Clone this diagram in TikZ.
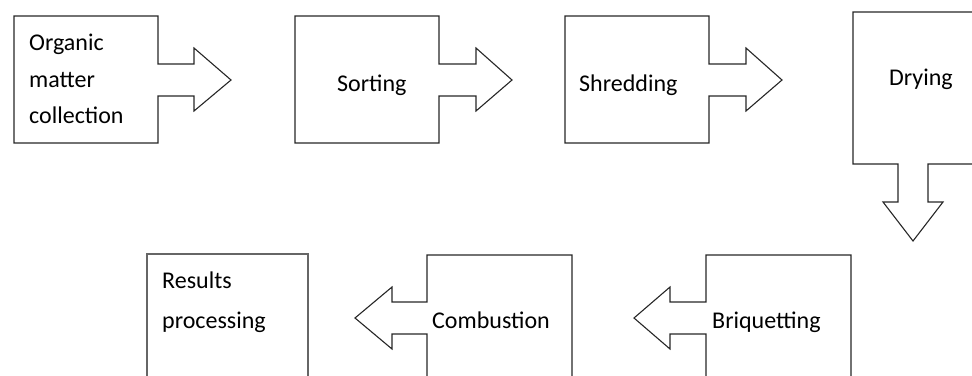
\documentclass[tikz,border=0pt]{standalone}
\usepackage{fontspec}
\setmainfont{Carlito}
\usepackage{tikz}
\usetikzlibrary{positioning}

\tikzset{
  stage/.style={draw=black!85, line width=1.1pt},
  label text/.style={inner sep=0pt, anchor=base west, font=\fontsize{24}{36}\selectfont}
}

\begin{document}
\begin{tikzpicture}[x=1pt,y=-1pt]
                \useasboundingbox (0,0) rectangle (972,375);
                % top row, arrows to the right
                \draw[stage] (14,16) -- (158,16) -- (158,64) -- (194,64) -- (194,48) -- (231,80)
                    -- (194,111) -- (194,96) -- (158,96) -- (158,143) -- (14,143) -- cycle;
                \draw[stage] (295,16) -- (439,16) -- (439,64) -- (476,64) -- (476,48) -- (512,80)
                    -- (476,111) -- (476,96) -- (439,96) -- (439,143) -- (295,143) -- cycle;
                \draw[stage] (565,16) -- (709,16) -- (709,64) -- (746,64) -- (746,48) -- (782,80)
                    -- (746,111) -- (746,96) -- (709,96) -- (709,143) -- (565,143) -- cycle;
                % drying, arrow down
                \draw[stage] (980,12) -- (853,12) -- (853,164) -- (898,164) -- (898,202) -- (883,202)
                    -- (913,241) -- (943,202) -- (928,202) -- (928,164) -- (980,164);
                % bottom row, arrows to the left
                \draw[stage] (706,380) -- (706,334) -- (670,334) -- (670,349) -- (634,318) -- (670,287)
                    -- (670,302) -- (706,302) -- (706,255) -- (851,255) -- (851,380);
                \draw[stage] (427,380) -- (427,334) -- (392,334) -- (392,349) -- (355,318) -- (392,287)
                    -- (392,302) -- (427,302) -- (427,255) -- (572,255) -- (572,380);
                \draw[stage, draw=black!60] (147,380) -- (147,254) -- (308,254) -- (308,380);
                % texts
                \node[label text] (organic) at (29,50) {Organic};
                \node[label text] (matter) at (29,87) {matter};
                \node[label text] (collection) at (29,123) {collection};
                \node[label text] (sorting) at (337,91) {Sorting};
                \node[label text] (shredding) at (579,91) {Shredding};
                \node[label text] (drying) at (889,85) {Drying};
                \node[label text] (briquetting) at (712,328) {Briquetting};
                \node[label text] (combustion) at (432,328) {Combustion};
                \node[label text] (results) at (162,288) {Results};
                \node[label text] (processing) at (162,328) {processing};
            \end{tikzpicture}
\end{document}
